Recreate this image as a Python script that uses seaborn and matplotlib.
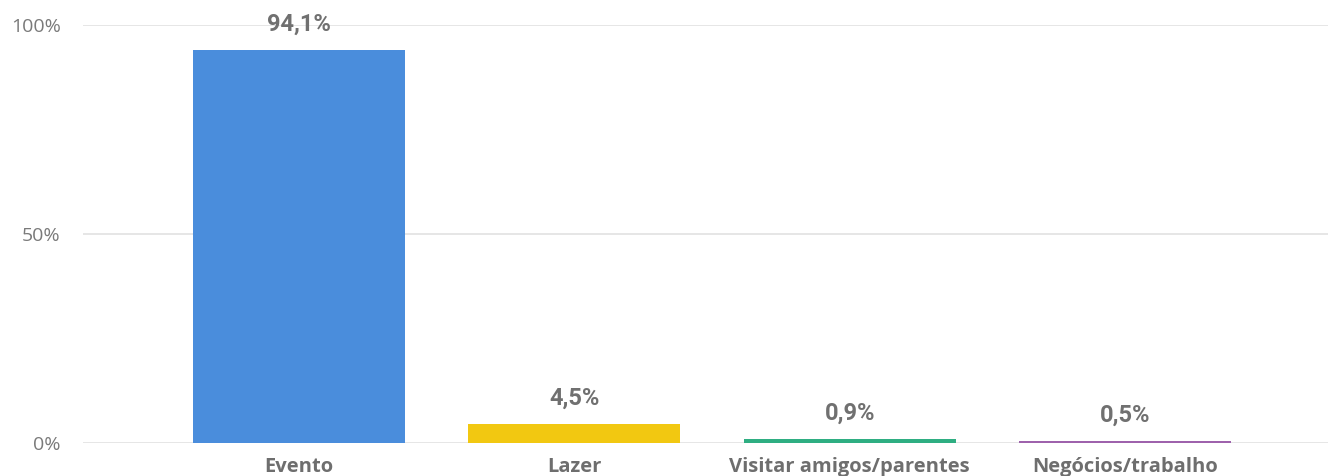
import matplotlib
matplotlib.use('Agg')
import matplotlib.pyplot as plt
import seaborn as sns
import pandas as pd
from matplotlib.ticker import FuncFormatter

categories = ['Evento', 'Lazer', 'Visitar amigos/parentes', 'Negócios/trabalho']
values = [94.1, 4.5, 0.9, 0.5]
bar_colors = ['#4A8DDC', '#F2C811', '#2FAE82', '#9E62AC']
y_ticks = [0, 50, 100]

df = pd.DataFrame({'categoria': categories, 'pct': values})

sns.set_theme(style='white')
plt.rcParams['font.family'] = ['Open Sans', 'DejaVu Sans']

fig = plt.figure(figsize=(13.28, 4.76), dpi=100)
ax = fig.add_axes([83 / 1328, 33 / 476, 1 - 83 / 1328, 418 / 476])

sns.barplot(data=df, x='categoria', y='pct', hue='categoria',
            palette=bar_colors, width=0.77, legend=False, ax=ax,
            saturation=1, linewidth=0, zorder=3)

ax.set_ylim(0, 100)
ax.set_xlim(-0.784, 3.737)
ax.set_yticks(y_ticks)
ax.yaxis.set_major_formatter(FuncFormatter(lambda v, _: f'{v:.0f}%'))
ax.grid(axis='y', color='#E6E6E6', linewidth=1.4, zorder=0)
ax.set_xlabel('')
ax.set_ylabel('')
for s in ax.spines.values():
    s.set_visible(False)
ax.tick_params(axis='y', length=0, pad=16, labelsize=14, labelcolor='#7A7A7A')
ax.tick_params(axis='x', length=0, pad=10, labelsize=14.5, labelcolor='#6E6E6E')
for lbl in ax.get_xticklabels():
    lbl.set_fontweight('bold')

for i, v in enumerate(values):
    ax.text(i, v + 3.4, f'{v:.1f}%'.replace('.', ','), ha='center', va='bottom',
            fontsize=17, fontweight='bold', color='#707070',
            family=['Roboto', 'DejaVu Sans'], clip_on=False)

fig.savefig('out.png', dpi=100)
